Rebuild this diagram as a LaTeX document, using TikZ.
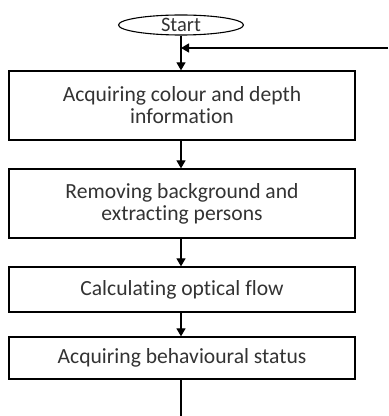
\documentclass[tikz,border=0pt]{standalone}
\usepackage{fontspec}
\setmainfont[Ligatures=NoCommon]{Carlito}
\usetikzlibrary{shapes.geometric,arrows.meta}
\begin{document}
\begin{tikzpicture}[x=1pt,y=1pt,
  box/.style={draw,line width=1.3pt,rectangle,minimum width=346pt,inner sep=0pt,align=center,font=\fontsize{21.6}{22}\selectfont,text=black!80},
  arr/.style={line width=1.3pt,-{Triangle[length=8pt,width=9pt]}},
  ln/.style={line width=1.3pt}]
\useasboundingbox (0,0) rectangle (389,416);
\node[draw,ellipse,line width=1.1pt,minimum width=125pt,minimum height=20pt,inner sep=0pt,font=\fontsize{20.5}{20}\selectfont,text=black!80] (start) at (181,391) {Start};
\node[box,minimum height=69pt] (b1) at (182,310.5) {Acquiring colour and depth\\information};
\node[box,minimum height=69pt] (b2) at (182,212.5) {Removing background and\\extracting persons};
\node[box,minimum height=45pt] (b3) at (182,126.5) {Calculating optical flow};
\node[box,minimum height=42pt] (b4) at (182,58) {Acquiring behavioural status};
\coordinate (fb) at (388,368);
\coordinate (end) at (181,0);
\draw[arr] (start.south) -- (start.south |- b1.north);
\draw[arr] (fb) -- (fb -| start.south);
\draw[arr] (b1.south -| start.south) -- (b2.north -| start.south);
\draw[arr] (b2.south -| start.south) -- (b3.north -| start.south);
\draw[arr] (b3.south -| start.south) -- (b4.north -| start.south);
\draw[ln] (b4.south -| start.south) -- (end);
\end{tikzpicture}
\end{document}
